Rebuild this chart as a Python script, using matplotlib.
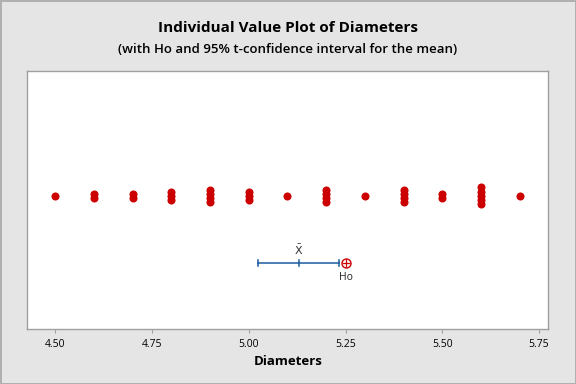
import matplotlib
matplotlib.use("Agg")
import matplotlib.pyplot as plt
import numpy as np

# diameters and how many times each one occurs
values = [4.5, 4.6, 4.7, 4.8, 4.9, 5.0, 5.1, 5.2, 5.3, 5.4, 5.5, 5.6, 5.7]
counts = [1, 2, 2, 3, 4, 3, 1, 4, 1, 4, 2, 5, 1]

# 95% t-interval for the mean (lower, mean, upper) and hypothesised mean
ci_lower, ci_mean, ci_upper = 5.025, 5.13, 5.234
h0 = 5.25

xticks = [4.50, 4.75, 5.00, 5.25, 5.50, 5.75]

plt.rcParams['font.family'] = ['Open Sans', 'DejaVu Sans']

fig = plt.figure(figsize=(5.76, 3.84), dpi=100, facecolor='#e5e5e5',
                 edgecolor='#b0b0b0', linewidth=1)
ax = fig.add_axes([0.0474, 0.1432, 0.9046, 0.6718])

row_y = 0.516
dy = 0.0165
for v, n in zip(values, counts):
    ys = row_y + (np.arange(n) - (n - 1) / 2) * dy
    ax.plot([v] * n, ys, 'o', color='#cc0000', markersize=5.8,
            markeredgewidth=0, zorder=3)

ci_y = 0.256
blue = '#1a5aa0'
ax.plot([ci_lower, ci_upper], [ci_y, ci_y], color=blue, lw=1.1)
for xv in (ci_lower, ci_mean, ci_upper):
    ax.plot([xv, xv], [ci_y - 0.012, ci_y + 0.012], color=blue, lw=1.1)
ax.plot(h0, ci_y, 'o', markersize=6.5, markerfacecolor='none',
        markeredgecolor='#cc0000', markeredgewidth=1.0, zorder=4)
ax.plot(h0, ci_y, '+', markersize=5.5, color='#cc0000', markeredgewidth=0.9, zorder=4)
ax.text(h0, ci_y - 0.035, 'Ho', ha='center', va='top', fontsize=7.5, color='#222222')
ax.text(ci_mean, ci_y + 0.02, r'$\bar{\mathrm{X}}$', ha='center', va='bottom',
        fontsize=8, color='#333333')

ax.set_xlim(4.4277, 5.774)
ax.set_ylim(0, 1)
ax.set_yticks([])
ax.set_xticks(xticks)
ax.set_xticklabels([f'{t:.2f}' for t in xticks], fontsize=7.5, color='#000000')
ax.tick_params(axis='x', length=3, color='#a0a0a0', pad=4)
for s in ax.spines.values():
    s.set_color('#a0a0a0')
    s.set_linewidth(1)
ax.set_xlabel('Diameters', fontsize=9.5, fontweight='bold', color='#000000', labelpad=4)

fig.text(0.5, 1 - 27.5 / 384, 'Individual Value Plot of Diameters', ha='center',
         va='center', fontsize=11, fontweight='bold', color='#000000')
fig.text(0.5, 1 - 49.6 / 384, '(with Ho and 95% t-confidence interval for the mean)',
         ha='center', va='center', fontsize=9.5, fontweight='semibold', color='#000000')

fig.savefig('out.png', dpi=100, facecolor=fig.get_facecolor(), edgecolor=fig.get_edgecolor())
